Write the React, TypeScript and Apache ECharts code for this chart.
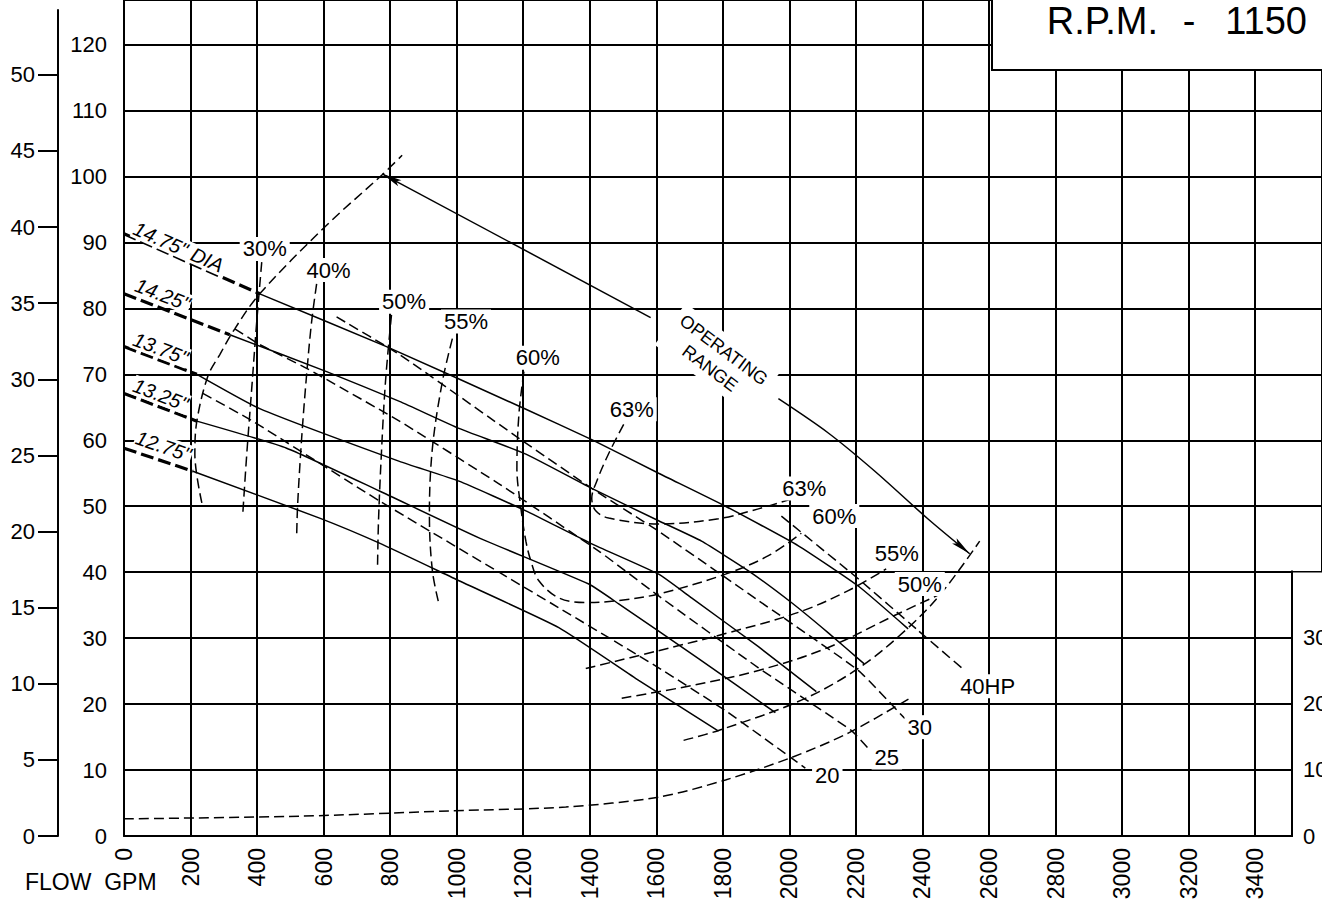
import React, { useEffect, useRef } from "react";
import * as echarts from "echarts";

const FONT = '"Liberation Sans", Arial, Helvetica, sans-serif';
const FLOW_MAX = 3601;
const HEAD_MAX = 126.75;
const FT_PER_PSI = 2.3;
const PSI_TOP = 124.8 / FT_PER_PSI;
const NPSH_MAX = 40;

// plot geometry (used for arrowhead orientation only)
const GRID_W = 1201;
const GRID_H = 839;
const PX_PER_GPM = GRID_W / FLOW_MAX;
const PX_PER_FT = GRID_H / HEAD_MAX;

const FLOW_TICKS = [0, 200, 400, 600, 800, 1000, 1200, 1400, 1600, 1800, 2000, 2200, 2400, 2600, 2800, 3000, 3200, 3400];
const HEAD_TICKS = [0, 10, 20, 30, 40, 50, 60, 70, 80, 90, 100, 110, 120];
const PSI_TICKS = [0, 5, 10, 15, 20, 25, 30, 35, 40, 45, 50];
const NPSH_TICKS = [0, 10, 20, 30];

// Impeller head curves [GPM, ft]; first segment (to min-flow line) is drawn dashed
const DIA_1475 = [[0, 91.3], [408, 82.2], [789, 74.2], [1208, 64.7], [1406, 60.1], [1607, 55.0], [1808, 50.0], [2027, 44.0], [2207, 37.9], [2357, 31.4]];
const DIA_1425 = [[0, 82.2], [318, 76.0], [609, 70.4], [828, 65.9], [1007, 61.8], [1208, 57.9], [1406, 52.7], [1607, 47.8], [1736, 44.7], [1877, 40.2], [2006, 35.4], [2117, 30.8], [2225, 26.1]];
const DIA_1375 = [[0, 74.2], [219, 70.0], [408, 64.8], [828, 56.8], [1007, 53.8], [1208, 49.3], [1406, 44.3], [1607, 39.7], [1706, 36.1], [1907, 28.7], [2081, 21.9]];
const DIA_1325 = [[0, 67.1], [219, 62.9], [489, 58.8], [768, 52.3], [1067, 45.2], [1397, 38.2], [1487, 35.2], [1727, 26.9], [1958, 18.7]];
const DIA_1275 = [[0, 58.8], [207, 55.3], [588, 48.2], [768, 44.4], [1007, 38.7], [1307, 31.6], [1547, 23.6], [1787, 15.9]];

// Efficiency curves
const EFF_30 = [[414, 87.0], [399, 78.0], [384, 67.9], [369, 57.9], [357, 48.8]];
const EFF_40 = [[579, 83.7], [564, 78.0], [549, 70.0], [534, 60.3], [522, 50.3], [519, 45.5]];
const EFF_50_L = [[804, 79.0], [786, 68.9], [774, 58.3], [765, 47.8], [762, 40.5]];
const EFF_55_L = [[987, 75.4], [957, 68.9], [927, 58.8], [918, 48.8], [927, 40.2], [948, 34.9]];
const EFF_60 = [[1202, 70.4], [1187, 63.9], [1181, 55.8], [1193, 49.7], [1208, 44.7], [1223, 41.7], [1247, 38.7], [1307, 36.1], [1388, 35.4], [1487, 35.7], [1607, 36.7], [1808, 39.7], [1937, 42.5], [2036, 45.9]];
const EFF_63 = [[1502, 62.4], [1457, 58.0], [1421, 53.8], [1406, 51.2], [1418, 49.3], [1457, 48.2], [1607, 47.3], [1787, 48.1], [1907, 49.6], [2006, 51.1]];
const EFF_55_R = [[1388, 25.4], [1607, 28.1], [1808, 30.7], [2027, 33.9], [2177, 37.2], [2291, 40.5]];
const EFF_50_R = [[1496, 20.9], [1706, 22.8], [1907, 25.1], [2108, 28.4], [2327, 33.7], [2455, 36.7]];

// Operating range limits
const MIN_FLOW = [[234, 50.5], [213, 57.9], [219, 62.9], [252, 69.7], [288, 73.0], [333, 76.9], [408, 82.2], [609, 92.6], [777, 100.3], [836, 103.2]];
const MAX_FLOW = [[1682, 14.5], [1787, 16.0], [2036, 20.6], [2207, 25.4], [2347, 31.1], [2455, 36.7], [2572, 44.7]];

// Horsepower lines
const HP_40 = [[1976, 48.5], [2207, 39.0], [2386, 31.2], [2527, 25.1]];
const HP_30 = [[639, 78.7], [828, 73.0], [1187, 60.3], [1406, 52.7], [1607, 46.2], [1907, 35.7], [2207, 25.1], [2347, 17.8]];
const HP_25 = [[333, 76.9], [408, 74.5], [549, 70.9], [828, 62.9], [1127, 53.4], [1427, 43.2], [1607, 36.4], [1907, 25.5], [2186, 16.0], [2237, 13.3]];
const HP_20 = [[237, 67.1], [387, 62.9], [768, 50.8], [1307, 34.6], [1607, 25.5], [1808, 19.0], [2048, 10.3]];

// NPSH required
const NPSH = [[0, 2.6], [528, 3.0], [977, 3.8], [1328, 4.4], [1607, 5.9], [1808, 8.5], [2006, 11.9], [2177, 15.6], [2366, 21.0]];

// Operating range arrows
const ARROW_MIN = [[1583, 78.6], [776, 100.4]];
const ARROW_MAX = [[1967, 66.3], [2117, 61.1], [2257, 55.3], [2416, 48.1], [2542, 42.8]];

// Labels [text, GPM, ft, rotation]
const DIA_LABELS: [string, number, number, number][] = [
  ['14.75" DIA', 164, 89.3, -24],
  ['14.25"', 116, 82.1, -21],
  ['13.75"', 110, 73.9, -21],
  ['13.25"', 110, 66.9, -21],
  ['12.75"', 119, 59.1, -19],
];
const EFF_LABELS: [string, number, number][] = [
  ["30%", 423, 89.0],
  ["40%", 615, 85.8],
  ["50%", 842, 81.0],
  ["55%", 1028, 78.0],
  ["60%", 1244, 72.5],
  ["63%", 1526, 64.7],
  ["63%", 2045, 52.7],
  ["60%", 2135, 48.5],
  ["55%", 2323, 42.9],
  ["50%", 2392, 38.2],
];
const HP_LABELS: [string, number, number][] = [
  ["40HP", 2596, 22.7],
  ["30", 2392, 16.5],
  ["25", 2293, 11.9],
  ["20", 2114, 9.1],
];
const RANGE_LABEL: [string, number, number, number] = ["OPERATING\nRANGE", 1782, 72.3, -37];

const BLACK = "#000";
const ARROW_PATH = "path://M0,0 L3.5,20 L0,16 L-3.5,20 Z";

function solidLine(data: number[][]) {
  return { type: "line", data, symbol: "none", smooth: 0.15, silent: true, z: 3, lineStyle: { color: BLACK, width: 1.5 } };
}
function dashLine(data: number[][], smooth = 0.35) {
  return { type: "line", data, symbol: "none", smooth, silent: true, z: 3, lineStyle: { color: BLACK, width: 1.5, type: [10, 5] } };
}
function thickDash(data: number[][]) {
  return { type: "line", data, symbol: "none", silent: true, z: 3, lineStyle: { color: BLACK, width: 3.2, type: [13, 5] } };
}
function arrowHead(path: number[][]) {
  const from = path[path.length - 2];
  const to = path[path.length - 1];
  const dx = (to[0] - from[0]) * PX_PER_GPM;
  const dy = (to[1] - from[1]) * PX_PER_FT;
  const len = Math.hypot(dx, dy);
  const ux = dx / len;
  const uy = dy / len;
  return {
    value: [to[0] - (ux * 10) / PX_PER_GPM, to[1] - (uy * 10) / PX_PER_FT],
    symbolRotate: (Math.atan2(dy, dx) * 180) / Math.PI - 90,
  };
}

function buildOption() {
  const diameters = [DIA_1475, DIA_1425, DIA_1375, DIA_1325, DIA_1275];
  const series: any[] = [];
  diameters.forEach((d) => {
    series.push(thickDash(d.slice(0, 2)));
    series.push(solidLine(d.slice(1)));
  });
  [EFF_30, EFF_40, EFF_50_L, EFF_55_L, EFF_60, EFF_63, EFF_55_R, EFF_50_R].forEach((d) => series.push(dashLine(d, 0.35)));
  series.push(dashLine(MIN_FLOW, 0.35));
  series.push(dashLine(MAX_FLOW, 0.35));
  [HP_40, HP_30, HP_25, HP_20].forEach((d) => series.push(dashLine(d, 0.15)));
  series.push(dashLine(NPSH, 0.3));

  // operating range arrows: shaft + head
  series.push({ ...solidLine(ARROW_MIN), smooth: false });
  series.push({ ...solidLine(ARROW_MAX), smooth: 0.3 });
  series.push({
    type: "scatter",
    silent: true,
    z: 3,
    symbol: ARROW_PATH,
    symbolSize: [7, 20],
    itemStyle: { color: BLACK, opacity: 1 },
    data: [arrowHead(ARROW_MIN), arrowHead(ARROW_MAX)],
  });

  const labelData: any[] = [];
  DIA_LABELS.forEach(([t, x, y, r]) =>
    labelData.push({ name: t, value: [x, y], label: { rotate: r, fontStyle: "italic", fontSize: 20, padding: [0, 1] } })
  );
  EFF_LABELS.forEach(([t, x, y]) => labelData.push({ name: t, value: [x, y] }));
  HP_LABELS.forEach(([t, x, y]) => labelData.push({ name: t, value: [x, y] }));
  labelData.push({
    name: RANGE_LABEL[0],
    value: [RANGE_LABEL[1], RANGE_LABEL[2]],
    label: { rotate: RANGE_LABEL[3], fontSize: 18, lineHeight: 23, align: "center", padding: [3, 6] },
  });

  series.push({
    type: "scatter",
    silent: true,
    z: 4,
    symbolSize: 1,
    itemStyle: { color: "transparent", opacity: 1 },
    label: {
      show: true,
      position: "inside",
      formatter: "{b}",
      color: BLACK,
      opacity: 1,
      textBorderWidth: 0,
      fontSize: 22,
      fontFamily: FONT,
      backgroundColor: "#fff",
      padding: [1, 3],
    },
    data: labelData,
  });

  return {
    animation: false,
    backgroundColor: "#fff",
    textStyle: { fontFamily: FONT, color: BLACK },
    grid: [
      { left: 124, right: -3, top: -3, bottom: 70 },
      { left: 58, width: 1, top: 10, bottom: 70 },
      { left: 1292, right: 0, top: 836 - 40 * PX_PER_FT, bottom: 70 },
    ],
    xAxis: [
      {
        type: "value",
        gridIndex: 0,
        min: 0,
        max: FLOW_MAX,
        interval: 200,
        axisLine: { show: true, lineStyle: { color: BLACK, width: 2 } },
        axisTick: { show: false },
        splitLine: { show: true, lineStyle: { color: BLACK, width: 2 } },
        axisLabel: {
          rotate: 90,
          margin: 12,
          fontSize: 23,
          color: BLACK,
          fontFamily: FONT,
          formatter: (v: number) => (FLOW_TICKS.indexOf(v) >= 0 ? String(v) : ""),
        },
      },
      { type: "value", gridIndex: 1, min: 0, max: 1, show: false },
      { type: "value", gridIndex: 2, min: 0, max: 1, show: false },
    ],
    yAxis: [
      {
        type: "value",
        gridIndex: 0,
        min: 0,
        max: HEAD_MAX,
        interval: 10,
        axisLine: { show: true, lineStyle: { color: BLACK, width: 2 } },
        axisTick: { show: false },
        splitLine: { show: true, lineStyle: { color: BLACK, width: 2 } },
        axisLabel: {
          margin: 17,
          fontSize: 22,
          color: BLACK,
          fontFamily: FONT,
          formatter: (v: number) => (HEAD_TICKS.indexOf(v) >= 0 ? String(v) : ""),
        },
      },
      {
        type: "value",
        gridIndex: 1,
        position: "left",
        min: 0,
        max: PSI_TOP,
        interval: 5,
        axisLine: { show: true, lineStyle: { color: BLACK, width: 2 } },
        axisTick: { show: true, length: 20, lineStyle: { color: BLACK, width: 2 }, customValues: PSI_TICKS },
        splitLine: { show: false },
        axisLabel: {
          margin: 23,
          fontSize: 22,
          color: BLACK,
          fontFamily: FONT,
          customValues: PSI_TICKS,
          formatter: (v: number) => (PSI_TICKS.indexOf(v) >= 0 ? String(v) : ""),
        },
      },
      {
        type: "value",
        gridIndex: 2,
        position: "left",
        z: 10,
        min: 0,
        max: NPSH_MAX,
        interval: 10,
        axisLine: { show: true, lineStyle: { color: BLACK, width: 2 } },
        axisTick: { show: false },
        splitLine: { show: false },
        axisLabel: {
          inside: true,
          margin: 11,
          fontSize: 22,
          color: BLACK,
          fontFamily: FONT,
          formatter: (v: number) => (NPSH_TICKS.indexOf(v) >= 0 ? String(v) : ""),
        },
      },
    ],
    graphic: [
      {
        type: "rect",
        z: 5,
        shape: { x: 1293, y: 572.5, width: 40, height: 300 },
        style: { fill: "#fff" },
      },
      {
        type: "rect",
        z: 5,
        shape: { x: 992, y: -10, width: 400, height: 80 },
        style: { fill: "#fff", stroke: BLACK, lineWidth: 2 },
      },
      {
        type: "text",
        z: 6,
        style: { text: "R.P.M.", x: 1158, y: 21, align: "right", verticalAlign: "middle", font: `38px ${FONT}`, fill: BLACK },
      },
      {
        type: "text",
        z: 6,
        style: { text: "-", x: 1189, y: 21, align: "center", verticalAlign: "middle", font: `38px ${FONT}`, fill: BLACK },
      },
      {
        type: "text",
        z: 6,
        style: { text: "1150", x: 1307, y: 21, align: "right", verticalAlign: "middle", font: `38px ${FONT}`, fill: BLACK },
      },
      {
        type: "text",
        z: 6,
        style: { text: "FLOW\u00a0\u00a0GPM", x: 25, y: 882, align: "left", verticalAlign: "middle", font: `23px ${FONT}`, fill: BLACK },
      },
    ],
    series,
  };
}

export default function App() {
  const ref = useRef<HTMLDivElement>(null);
  useEffect(() => {
    document.body.style.margin = "0";
    const chart = echarts.init(ref.current as HTMLDivElement, null, { renderer: "svg" });
    chart.setOption(buildOption() as any);
    return () => chart.dispose();
  }, []);
  return <div ref={ref} style={{ width: 1322, height: 906 }} />;
}
